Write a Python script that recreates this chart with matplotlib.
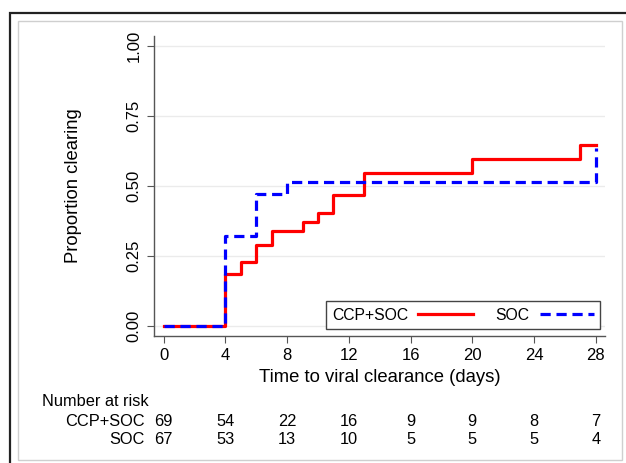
import matplotlib
matplotlib.use("Agg")
import matplotlib.pyplot as plt
from matplotlib.patches import Rectangle
from matplotlib.transforms import blended_transform_factory

plt.rcParams['font.family'] = ['Liberation Sans', 'DejaVu Sans']

# Kaplan-Meier style step data (proportion clearing)
ccp_days = [0, 4, 5, 6, 7, 9, 10, 11, 13, 20, 27, 28]
ccp_prop = [0, 0.185, 0.226, 0.288, 0.339, 0.370, 0.403, 0.468, 0.544, 0.595, 0.645, 0.645]
soc_days = [0, 4, 6, 8, 28]
soc_prop = [0, 0.320, 0.472, 0.514, 0.635]

# number at risk table
risk_days = [0, 4, 8, 12, 16, 20, 24, 28]
risk_ccp = [69, 54, 22, 16, 9, 9, 8, 7]
risk_soc = [67, 53, 13, 10, 5, 5, 5, 4]

x_ticks = [0, 4, 8, 12, 16, 20, 24, 28]
y_ticks = [0, 0.25, 0.5, 0.75, 1.0]
y_ticklabels = ["0.00", "0.25", "0.50", "0.75", "1.00"]

W, H = 626, 463
fig = plt.figure(figsize=(W / 100, H / 100), dpi=100)

# screenshot frames
fig.add_artist(Rectangle((10 / W, -0.05), 1.1, 1 - 13 / H + 0.05, transform=fig.transFigure,
                         fill=False, edgecolor='#222222', linewidth=1.6))
fig.add_artist(Rectangle((18 / W, 1 - 460 / H), (622 - 18) / W, (460 - 21) / H,
                         transform=fig.transFigure, fill=False, edgecolor='#cfcfcf', linewidth=1.0))

ax = fig.add_axes([154 / W, 1 - 335.7 / H, (605 - 154) / W, (335.7 - 36) / H])
ax.set_xlim(-0.63, 28.6)
ax.set_ylim(-0.036, 1.035)

ax.step(ccp_days, ccp_prop, where='post', color='#ff0000', linewidth=2.3, label='CCP+SOC')
ax.step(soc_days, soc_prop, where='post', color='#0000ff', linewidth=2.3,
        linestyle=(0, (3.2, 1.8)), label='SOC')

for s in ['top', 'right']:
    ax.spines[s].set_visible(False)
for s in ['left', 'bottom']:
    ax.spines[s].set_color('#555555')
    ax.spines[s].set_linewidth(1.0)

ax.set_xticks(x_ticks)
ax.set_yticks(y_ticks)
ax.set_yticklabels(y_ticklabels, rotation=90, va='center')
ax.tick_params(axis='both', length=5, color='#555555', labelsize=12, pad=4)
ax.grid(axis='y', color='#ebebeb', linewidth=1.0)
ax.set_axisbelow(True)

ax.set_xlabel('Time to viral clearance (days)', fontsize=13.3, labelpad=4)
ax.set_ylabel('Proportion clearing', fontsize=13.3, labelpad=32)

leg = ax.legend(loc='lower right', bbox_to_anchor=(600 / W, 1 - 329 / H), bbox_transform=fig.transFigure,
                ncol=2, markerfirst=False, fancybox=False, framealpha=1, edgecolor='#444444',
                fontsize=11.3, handlelength=3.45, columnspacing=1.45, borderpad=0.4, handletextpad=0.65,
                borderaxespad=0)
leg.get_frame().set_linewidth(1.0)

# number at risk table below axis
fs = 11.8
tr = blended_transform_factory(ax.transData, fig.transFigure)
fig.text(42 / W, 1 - 402 / H, 'Number at risk', fontsize=fs, va='center', ha='left')
fig.text(145 / W, 1 - 421 / H, 'CCP+SOC', fontsize=fs, va='center', ha='right')
fig.text(145 / W, 1 - 439 / H, 'SOC', fontsize=fs, va='center', ha='right')
for d, a, b in zip(risk_days, risk_ccp, risk_soc):
    ax.text(d, 1 - 421 / H, str(a), transform=tr, fontsize=fs, va='center', ha='center')
    ax.text(d, 1 - 439 / H, str(b), transform=tr, fontsize=fs, va='center', ha='center')

fig.savefig('out.png', dpi=100)
